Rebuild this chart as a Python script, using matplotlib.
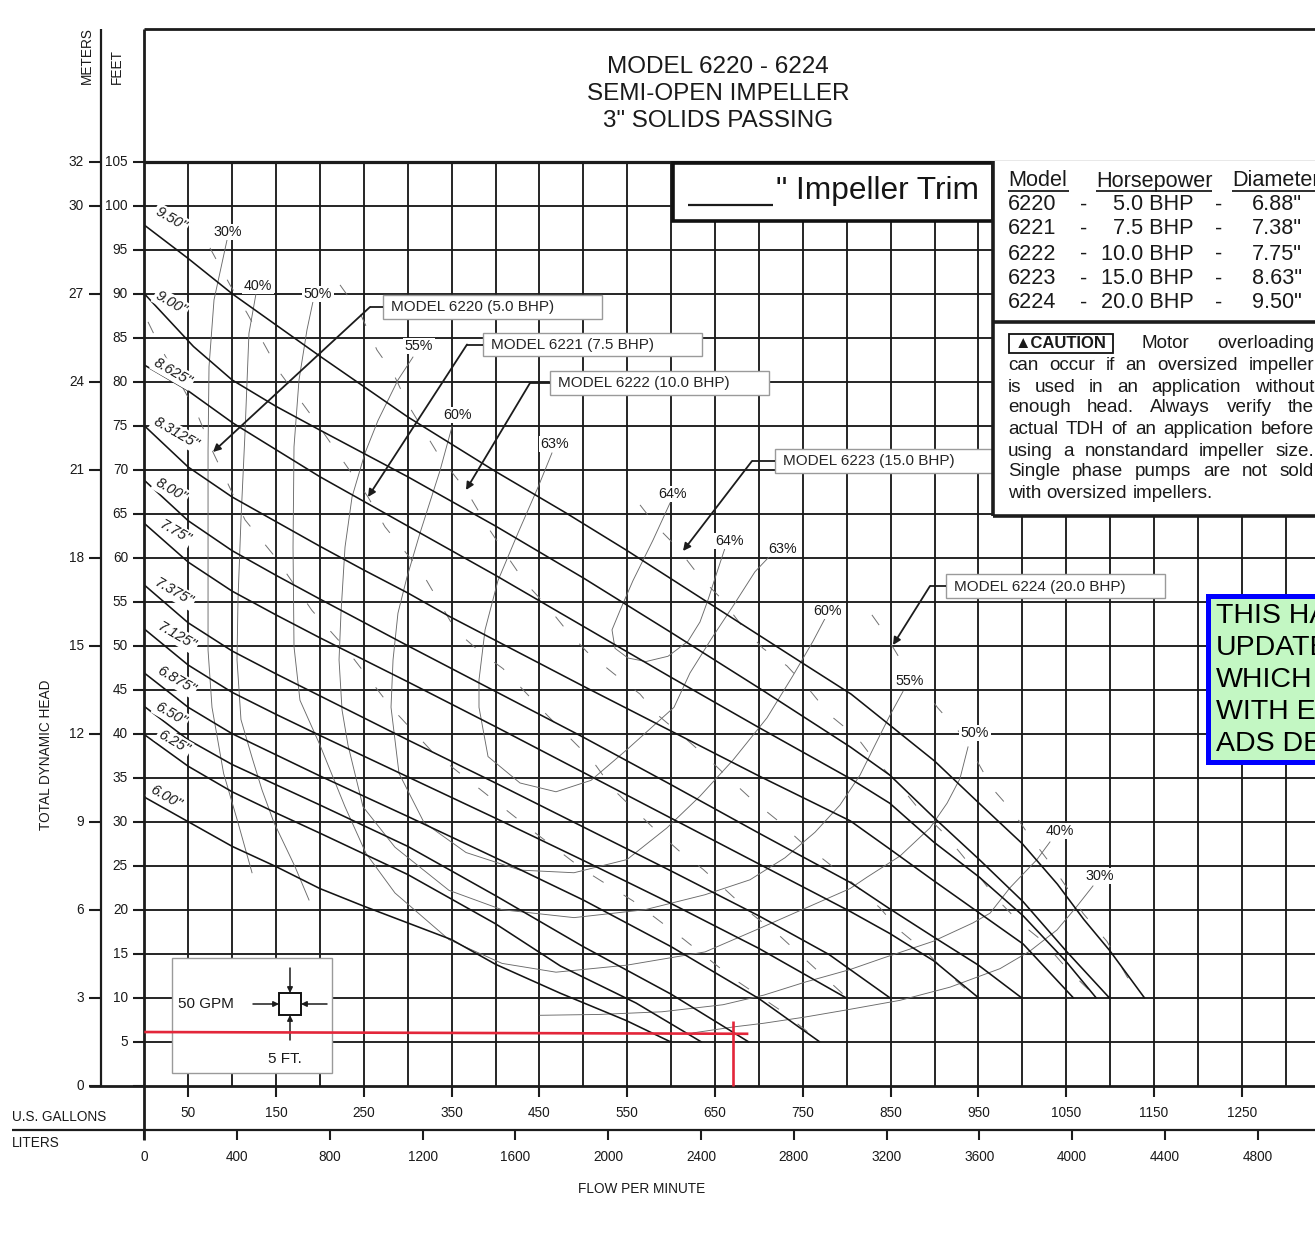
import matplotlib
matplotlib.use('Agg')
import matplotlib.pyplot as plt
import matplotlib.transforms as mtransforms
from matplotlib.patches import Rectangle
from matplotlib.lines import Line2D

# ------------------------------------------------------------------ data
trim_labels = ['9.50"', '9.00"', '8.625"', '8.3125"', '8.00"', '7.75"',
               '7.375"', '7.125"', '6.875"', '6.50"', '6.25"', '6.00"']

q_950 = [0, 50, 100, 200, 300, 400, 480, 550, 650, 750, 805, 900, 955, 1000, 1040, 1070, 1100, 1139]
h_950 = [97.8, 94.0, 90.0, 82.9, 76.0, 69.8, 65.1, 60.8, 54.4, 48.0, 44.5, 36.9, 31.7, 27.5, 22.9, 18.9, 15.3, 10.0]
q_900 = [0, 56, 100, 150, 200, 300, 400, 500, 600, 700, 804, 849, 899, 951, 1001, 1050, 1099]
h_900 = [90.0, 84.0, 80.2, 77.2, 74.5, 69.2, 63.6, 57.7, 51.5, 45.2, 38.5, 35.3, 30.5, 25.7, 20.9, 15.3, 10.0]
q_8625 = [0, 48, 101, 135, 200, 300, 400, 500, 600, 700, 804, 849, 899, 951, 1001, 1050, 1084]
h_8625 = [81.9, 79.1, 75.3, 73.2, 69.2, 63.6, 58.0, 52.2, 46.4, 40.7, 34.9, 32.1, 27.7, 23.7, 19.3, 14.1, 10.0]
q_83125 = [0, 50, 100, 150, 200, 250, 300, 348, 400, 500, 600, 700, 804, 849, 899, 950, 1001, 1058]
h_83125 = [75.0, 70.3, 66.9, 64.1, 61.3, 58.6, 56.0, 53.3, 50.6, 45.4, 40.3, 35.2, 30.1, 26.9, 23.3, 19.7, 16.1, 10.0]
q_800 = [0, 50, 100, 150, 200, 300, 400, 500, 600, 700, 804, 849, 899, 950, 999]
h_800 = [68.8, 64.2, 60.8, 58.0, 55.3, 50.0, 44.8, 39.6, 34.2, 28.7, 23.1, 20.1, 16.9, 13.7, 10.0]
q_775 = [0, 50, 100, 150, 200, 300, 400, 500, 600, 700, 804, 849, 899, 950]
h_775 = [63.9, 59.5, 56.2, 53.5, 50.9, 45.9, 40.8, 35.6, 30.4, 25.2, 19.8, 17.3, 14.2, 10.0]
q_7375 = [0, 50, 100, 150, 200, 300, 400, 500, 600, 700, 780, 849]
h_7375 = [56.9, 52.6, 49.4, 46.8, 44.3, 39.3, 34.4, 29.4, 24.4, 19.3, 14.9, 10.0]
q_7125 = [0, 50, 100, 150, 200, 300, 400, 500, 600, 700, 799]
h_7125 = [51.9, 47.8, 44.7, 42.2, 39.8, 35.1, 30.4, 25.6, 20.7, 15.6, 10.0]
q_6875 = [0, 50, 100, 150, 200, 300, 400, 500, 600, 700, 769]
h_6875 = [46.9, 43.0, 40.0, 37.6, 35.2, 30.6, 25.9, 21.1, 15.8, 9.9, 5.0]
q_650 = [0, 50, 100, 150, 200, 300, 400, 500, 600, 688]
h_650 = [43.1, 39.3, 36.5, 34.2, 31.9, 27.2, 21.6, 15.8, 10.4, 5.0]
q_625 = [0, 50, 100, 150, 200, 300, 400, 474, 560, 634]
h_625 = [39.9, 36.3, 33.4, 31.0, 28.7, 24.0, 18.4, 13.6, 9.4, 5.0]
q_600 = [0, 50, 100, 150, 200, 250, 300, 350, 400, 474, 549, 599]
h_600 = [32.8, 30.0, 27.2, 24.9, 22.4, 20.4, 18.5, 16.6, 13.8, 10.5, 7.4, 5.0]

# efficiency contours (flow GPM, head ft)
eff30_l_q = [94.2, 79.4, 73.7, 72.6, 72.6, 72.6, 77.1, 90.3, 106.7, 122.7]
eff30_l_h = [96.1, 89.3, 81.7, 72.2, 60.9, 49.5, 43.0, 35.5, 29.9, 24.2]
eff30_r_q = [1080.5, 1062.3, 1039.5, 1008.7, 974.6, 917.7, 860.7, 799.2, 752.5, 705.8, 672.7, 624.9]
eff30_r_h = [22.7, 20.4, 17.7, 15.3, 13.3, 11.2, 9.7, 8.6, 7.8, 7.1, 6.7, 6.0]
eff40_l_q = [127.4, 119.2, 114.7, 110.1, 106.7, 105.6, 110.1, 122.7, 134.1, 147.7, 171.6, 187.6]
eff40_l_h = [90.1, 85.5, 74.2, 64.3, 55.2, 48.4, 41.6, 37.3, 33.6, 29.9, 24.9, 21.1]
eff40_r_q = [1031.5, 1016.7, 986.0, 963.2, 943.8, 898.3, 841.3, 803.8, 753.6, 705.8, 659.1, 589.6, 519.0, 450.7]
eff40_r_h = [27.7, 25.7, 22.5, 19.6, 18.5, 16.4, 14.5, 13.2, 11.8, 10.3, 9.2, 8.4, 8.1, 8.0]
eff50_q = [192.1, 185.3, 176.2, 170.5, 169.4, 170.5, 177.3, 200.1, 228.6, 252.5, 285.5, 347.0, 407.4,
           468.9, 549.8, 638.6, 696.7, 746.8, 803.8, 823.2, 860.7, 894.9, 914.3, 929.0, 938.2]
eff50_h = [89.1, 85.9, 80.2, 72.6, 61.2, 49.9, 43.8, 38.7, 31.7, 26.4, 21.9, 16.6, 13.9,
           12.9, 13.7, 15.2, 17.7, 19.9, 22.4, 23.7, 26.1, 29.3, 32.1, 34.9, 38.5]
eff55_q = [306.0, 288.9, 266.2, 251.4, 236.6, 228.6, 224.0, 221.8, 225.2, 232.0, 249.1, 285.5, 347.0,
           407.4, 489.4, 570.3, 638.6, 689.9, 729.7, 763.9, 792.4, 815.2, 832.2, 849.3, 864.1]
eff55_h = [82.8, 80.2, 75.6, 71.9, 66.9, 61.2, 53.7, 48.4, 42.7, 38.7, 31.7, 27.1, 22.2,
           20.0, 19.1, 20.0, 21.7, 23.4, 25.9, 28.8, 31.9, 35.3, 38.7, 42.1, 44.8]
eff60_q = [350.5, 336.8, 314.0, 299.2, 288.9, 283.3, 281.0, 290.1, 318.6, 366.4, 427.9, 489.4,
           549.8, 595.3, 632.9, 670.5, 709.2, 738.8, 761.6, 776.4]
eff60_h = [74.9, 69.9, 62.8, 57.8, 53.7, 48.4, 43.0, 35.5, 29.9, 26.5, 24.5, 24.2,
           25.7, 29.3, 32.9, 37.0, 41.8, 46.6, 50.5, 53.3]
eff63_q = [464.3, 448.4, 425.6, 402.8, 388.1, 381.2, 381.2, 391.5, 427.9, 468.9, 508.8, 549.8,
           603.3, 621.5, 646.6, 670.5, 695.5, 712.6]
eff63_h = [71.9, 68.0, 62.8, 57.4, 51.8, 46.1, 43.0, 37.4, 34.4, 33.4, 34.7, 38.2,
           43.0, 46.9, 50.9, 54.5, 58.4, 60.2]
eff64_q = [598.7, 579.4, 556.6, 541.8, 532.7, 536.1, 550.9, 571.4, 596.5, 619.2, 632.9, 642.0, 651.1, 661.4]
eff64_h = [66.2, 62.0, 57.4, 54.0, 51.8, 49.7, 48.6, 48.2, 48.8, 50.5, 52.7, 55.2, 58.0, 61.1]

# motor horsepower limit lines (dashed)
hp5_q = [4.2, 17.9, 60.0, 78.2, 114.7, 148.9, 191.0, 228.6, 281.0, 326.5, 383.5, 440.4, 500.8, 556.6,
         613.6, 670.5, 724.0, 767.3]
hp5_h = [86.8, 84.0, 76.4, 72.0, 64.3, 60.1, 54.0, 49.8, 43.0, 38.1, 33.6, 29.1, 24.5, 21.0,
         16.7, 12.2, 8.6, 5.2]
hp75_q = [74.8, 97.6, 117.0, 154.6, 194.4, 254.8, 274.2, 316.3, 355.0, 382.3, 408.5, 459.8, 509.9,
          533.8, 583.9, 610.1, 636.3, 667.0, 693.3, 724.0, 799.2]
hp75_h = [95.2, 91.0, 87.8, 81.0, 75.6, 66.9, 63.5, 58.3, 51.7, 49.3, 47.4, 42.0, 37.0,
          33.7, 28.9, 26.6, 24.6, 21.8, 19.4, 17.0, 10.1]
hp10_q = [222.9, 245.7, 265.0, 283.3, 300.3, 336.8, 366.4, 393.7, 416.5, 433.6, 458.7, 481.4, 504.2,
          533.8, 564.6, 585.1, 613.6, 640.9, 670.5, 693.3, 720.6, 746.8, 777.6, 807.2, 837.9, 859.6,
          893.7, 913.1, 946.1]
hp10_h = [91.0, 87.8, 83.6, 81.0, 77.4, 71.4, 67.7, 63.1, 59.7, 57.2, 54.5, 51.7, 49.3,
          46.9, 44.5, 42.1, 39.7, 37.3, 34.5, 32.4, 30.2, 27.8, 25.4, 23.0, 20.2, 17.7,
          14.9, 12.9, 10.1]
hp15_q = [564.6, 584.0, 606.7, 632.9, 655.7, 681.9, 704.7, 732.0, 758.2, 781.0, 811.7, 829.9, 857.2,
          880.0, 909.6, 929.0, 948.4, 971.2, 997.4, 1023.6, 1050.9, 1083.9]
hp15_h = [66.0, 63.5, 61.2, 57.8, 55.5, 52.1, 49.7, 47.7, 44.9, 42.1, 39.6, 37.2, 34.5,
          31.7, 28.8, 26.5, 24.1, 21.2, 18.5, 16.4, 13.3, 10.1]
hp20_q = [828.7, 840.1, 860.7, 904.0, 929.0, 948.4, 966.6, 989.4, 1008.7, 1031.5, 1050.9, 1069.1,
          1096.4, 1119.2, 1138.6]
hp20_h = [53.5, 51.9, 48.5, 42.9, 40.1, 36.9, 33.7, 31.1, 28.3, 25.3, 22.5, 19.6, 16.4, 12.4, 10.1]

# red operating point marker
red_h_q = [0, 688]
red_h_h = [6.1, 5.9]
red_v_q = [671, 671]
red_v_h = [7.3, 0]

# axes scales
ft_ticks = list(range(0, 110, 5))
meter_pos_ft = [105, 100, 90, 80, 70, 60, 50, 40, 30, 20, 10, 0]
meter_labels = ['32', '30', '27', '24', '21', '18', '15', '12', '9', '6', '3', '0']
gpm_labels = [50, 150, 250, 350, 450, 550, 650, 750, 850, 950, 1050, 1150, 1250, 1350]
liter_labels = [0, 400, 800, 1200, 1600, 2000, 2400, 2800, 3200, 3600, 4000, 4400, 4800]
grid_gpm = list(range(50, 1350, 50))
grid_ft = list(range(5, 105, 5))

models = ['6220', '6221', '6222', '6223', '6224']
horsepower = ['5.0 BHP', '7.5 BHP', '10.0 BHP', '15.0 BHP', '20.0 BHP']
diameters = ['6.88"', '7.38"', '7.75"', '8.63"', '9.50"']

# ------------------------------------------------------------------ figure
FONT = ['Liberation Sans', 'DejaVu Sans']
SMALL = 9.8
plt.rcParams['font.family'] = FONT
plt.rcParams['lines.scale_dashes'] = False

W, H = 1315, 1245
fig = plt.figure(figsize=(W / 100, H / 100), dpi=100)
fig.patch.set_facecolor('white')
pix = mtransforms.Affine2D().scale(1.0 / W, -1.0 / H).translate(0, 1) + fig.transFigure

X0, Y0, PX_GPM, PX_FT = 144.3, 1085.7, 0.878, 8.8
XMAX = (W - X0) / PX_GPM
YMAX = (Y0 - 29) / PX_FT
ax = fig.add_axes([X0 / W, 1 - Y0 / H, (W - X0) / W, (Y0 - 29) / H])
ax.set_xlim(0, XMAX)
ax.set_ylim(0, YMAX)
ax.axis('off')

ytr = mtransforms.blended_transform_factory(pix, ax.transData)
xtr = mtransforms.blended_transform_factory(ax.transData, pix)
INK = '#1c1c1c'


def L(xs, ys, tr=pix, **kw):
    kw.setdefault('color', INK)
    kw.setdefault('solid_capstyle', 'butt')
    kw.setdefault('zorder', 6)
    ax.add_line(Line2D(xs, ys, transform=tr, clip_on=False, **kw))


def T(x, y, s, tr=pix, **kw):
    kw.setdefault('ha', 'center')
    kw.setdefault('va', 'center')
    kw.setdefault('zorder', 8)
    kw.setdefault('color', '#1a1a1a')
    return ax.text(x, y, s, transform=tr, clip_on=False, **kw)


# grid
for g in grid_gpm:
    ax.plot([g, g], [0, 105], color=INK, lw=1.35, zorder=1, solid_capstyle='butt')
for f in grid_ft:
    ax.plot([0, XMAX], [f, f], color=INK, lw=1.35, zorder=1, solid_capstyle='butt')
ax.plot([0, XMAX], [105, 105], color=INK, lw=2.3, zorder=1, solid_capstyle='butt')

# frame lines
L([X0, W + 2], [29, 29], lw=2.0)
L([X0, X0], [29, 1140], lw=2.0)
L([101, 101], [29, Y0], lw=1.6)
L([89, W + 2], [Y0, Y0], lw=2.0)
L([12, W + 2], [1130, 1130], lw=1.6)

# left scales
for f in ft_ticks:
    L([133, X0], [f, f], tr=ytr, lw=1.5)
    if f > 0:
        T(128, f, str(f), tr=ytr, ha='right', fontsize=SMALL)
for p, m in zip(meter_pos_ft, meter_labels):
    L([89, 101], [p, p], tr=ytr, lw=1.5)
    T(84, p, m, tr=ytr, ha='right', fontsize=SMALL)

# bottom scales
for g in gpm_labels:
    L([g, g], [Y0, 1097], tr=xtr, lw=1.5)
    T(g, 1113, str(g), tr=xtr, fontsize=SMALL)
for l in liter_labels:
    gq = l / 3.7854
    L([gq, gq], [1130, 1140], tr=xtr, lw=1.5)
    T(gq, 1157, str(l), tr=xtr, fontsize=SMALL)

T(12, 1117, 'U.S. GALLONS', ha='left', fontsize=SMALL)
T(12, 1143, 'LITERS', ha='left', fontsize=SMALL)
T(642, 1189, 'FLOW PER MINUTE', fontsize=SMALL)
T(46, 755, 'TOTAL DYNAMIC HEAD', rotation=90, fontsize=SMALL)
T(87, 56, 'METERS', rotation=90, fontsize=SMALL)
T(117, 67, 'FEET', rotation=90, fontsize=SMALL)

# title
for y, s in zip([67, 94, 121], ['MODEL 6220 - 6224', 'SEMI-OPEN IMPELLER', '3" SOLIDS PASSING']):
    T(718, y, s, fontsize=17.5)

# pump curves
curves = [(q_950, h_950), (q_900, h_900), (q_8625, h_8625), (q_83125, h_83125), (q_800, h_800),
          (q_775, h_775), (q_7375, h_7375), (q_7125, h_7125), (q_6875, h_6875), (q_650, h_650),
          (q_625, h_625), (q_600, h_600)]
for q, h in curves:
    ax.plot(q, h, color='#141414', lw=1.15, zorder=3, solid_joinstyle='round')

# efficiency contours
effs = [(eff30_l_q, eff30_l_h), (eff30_r_q, eff30_r_h), (eff40_l_q, eff40_l_h), (eff40_r_q, eff40_r_h),
        (eff50_q, eff50_h), (eff55_q, eff55_h), (eff60_q, eff60_h), (eff63_q, eff63_h), (eff64_q, eff64_h)]
for q, h in effs:
    ax.plot(q, h, color='#6a6a6a', lw=0.65, zorder=2)

# hp limit lines
for q, h in [(hp5_q, hp5_h), (hp75_q, hp75_h), (hp10_q, hp10_h), (hp15_q, hp15_h), (hp20_q, hp20_h)]:
    ax.plot(q, h, color='#707070', lw=0.7, zorder=2, linestyle=(0, (9, 17)))

# trim labels
trim_pos = [(171, 219), (171, 303), (173, 372), (176, 433), (171, 490), (175, 532),
            (174, 592), (177, 636), (176, 680), (171, 714), (174, 742), (166, 797)]
for (x, y), s in zip(trim_pos, trim_labels):
    T(x, y, s, rotation=-30, style='italic', fontsize=10.5,
      bbox=dict(boxstyle='square,pad=0.12', fc='white', ec='none'))

# efficiency labels
eff_lbls = [('30%', 228, 232), ('40%', 258, 286), ('50%', 318, 294), ('55%', 419, 346),
            ('60%', 458, 415), ('63%', 555, 444), ('64%', 673, 494), ('64%', 730, 541),
            ('63%', 783, 549), ('60%', 828, 611), ('55%', 910, 681), ('50%', 975, 733),
            ('40%', 1060, 831), ('30%', 1100, 876)]
for s, x, y in eff_lbls:
    T(x, y, s, fontsize=10.3,
      bbox=dict(boxstyle='square,pad=0.1', fc='white', ec='none'))

# model labels with leaders
model_boxes = [('MODEL 6220 (5.0 BHP)', 383, 295, 602, 319, 370, (213, 452)),
               ('MODEL 6221 (7.5 BHP)', 483, 333, 702, 356, 467, (368, 497)),
               ('MODEL 6222 (10.0 BHP)', 550, 371, 769, 395, 530, (466, 490)),
               ('MODEL 6223 (15.0 BHP)', 775, 449, 993, 473, 752, (683, 551)),
               ('MODEL 6224 (20.0 BHP)', 946, 574, 1165, 598, 930, (893, 645))]
for s, x1, y1, x2, y2, xe, tip in model_boxes:
    ax.add_patch(Rectangle((x1, y1), x2 - x1, y2 - y1, transform=pix, fc='white', ec='#9a9a9a',
                           lw=1.0, zorder=5, clip_on=False))
    T(x1 + 8, (y1 + y2) / 2 + 0.5, s, ha='left', fontsize=11, color='#262626')
    ym = (y1 + y2) / 2
    L([x1, xe], [ym, ym], lw=1.3, zorder=6)
    ax.annotate('', xy=tip, xycoords=pix, xytext=(xe, ym), textcoords=pix,
                arrowprops=dict(arrowstyle='-|>', color=INK, lw=1.3, shrinkA=0, shrinkB=0,
                                mutation_scale=11), zorder=6, annotation_clip=False)

# impeller trim box
ax.add_patch(Rectangle((673, 163), 320, 58, transform=pix, fc='white', ec='#111111', lw=2.6,
                       zorder=5, clip_on=False))
L([688, 773], [205, 205], lw=1.6, zorder=7)
T(776, 191, '" Impeller Trim', ha='left', fontsize=22.8, color='#151515')

# table & caution panel
ax.add_patch(Rectangle((993, 161), 330, 355, transform=pix, fc='white', ec='none', zorder=5,
                       clip_on=False))
L([993, 993], [161, 516], lw=2.6, zorder=7)
L([993, W + 2], [322, 322], lw=2.6, zorder=7)
L([993, W + 2], [516, 516], lw=2.6, zorder=7)

TBL = 15.6
for x, s, x2 in [(1008, 'Model', 1069), (1096, 'Horsepower', 1212), (1232, 'Diameter', 1330)]:
    T(x, 181, s, ha='left', fontsize=TBL)
    L([x, x2], [191, 191], lw=1.3, zorder=7)
row_y = [205, 229, 254, 279, 303]
for y, m, hp, d in zip(row_y, models, horsepower, diameters):
    T(1008, y, m, ha='left', fontsize=TBL)
    T(1084, y, '-', fontsize=TBL)
    T(1194, y, hp, ha='right', fontsize=TBL)
    T(1219, y, '-', fontsize=TBL)
    T(1302, y, d, ha='right', fontsize=TBL)

# caution badge
ax.add_patch(Rectangle((1009, 334), 104, 19, transform=pix, fc='white', ec='#111111', lw=1.3,
                       zorder=7, clip_on=False))
T(1061, 343.5, '\u25B2CAUTION', fontsize=12, weight='bold')

caution_lines = [['Motor', 'overloading'],
                 'can occur if an oversized impeller'.split(),
                 'is used in an application without'.split(),
                 'enough head. Always verify the'.split(),
                 'actual TDH of an application before'.split(),
                 'using a nonstandard impeller size.'.split(),
                 'Single phase pumps are not sold'.split(),
                 'with oversized impellers.'.split()]
caution_y = [343, 365, 387, 408, 430, 451, 472, 493]
CFS = 13.6
renderer = fig.canvas.get_renderer()
for i, (words, y) in enumerate(zip(caution_lines, caution_y)):
    x_left = 1142 if i == 0 else 1008
    ts = [T(0, y, w, ha='left', fontsize=CFS) for w in words]
    ws = [t.get_window_extent(renderer=renderer).width for t in ts]
    if i == len(caution_lines) - 1:
        gap = CFS * 100 / 72 * 0.28
    else:
        gap = max((1314 - x_left - sum(ws)) / (len(words) - 1), CFS * 100 / 72 * 0.2)
    x = x_left
    for t, w in zip(ts, ws):
        t.set_x(x)
        x += w + gap

# green notice box
ax.add_patch(Rectangle((1208, 596), 120, 166, transform=pix, fc='#c3f7c3', ec='#0000ff', lw=3.6,
                       zorder=7, clip_on=False))
for y, s in zip([616, 648, 680, 712, 744], ['THIS HAS', 'UPDATED', 'WHICH', 'WITH ELE', 'ADS DES']):
    T(1216, y, s, ha='left', fontsize=20.5, color='black', zorder=9)

# scale legend box
ax.add_patch(Rectangle((172, 958), 160, 115, transform=pix, fc='white', ec='#9a9a9a', lw=1.0,
                       zorder=5, clip_on=False))
T(178, 1004, '50 GPM', ha='left', fontsize=11)
T(285, 1059, '5 FT.', fontsize=11)
ax.add_patch(Rectangle((279, 993), 22, 22, transform=pix, fc='white', ec='#111111', lw=1.4,
                       zorder=6, clip_on=False))
for a, b in [((253, 1004), (279, 1004)), ((327, 1004), (301, 1004)),
             ((290, 968), (290, 993)), ((290, 1040), (290, 1015))]:
    ax.annotate('', xy=b, xycoords=pix, xytext=a, textcoords=pix,
                arrowprops=dict(arrowstyle='-|>', color=INK, lw=1.1, shrinkA=0, shrinkB=0,
                                mutation_scale=8), zorder=6, annotation_clip=False)

# red marker lines
ax.plot(red_h_q, red_h_h, color='#e3263a', lw=1.9, zorder=8, clip_on=False, solid_capstyle='butt')
ax.plot(red_v_q, red_v_h, color='#e3263a', lw=1.9, zorder=8, clip_on=False, solid_capstyle='butt')

fig.savefig('out.png', dpi=100, facecolor='white')
